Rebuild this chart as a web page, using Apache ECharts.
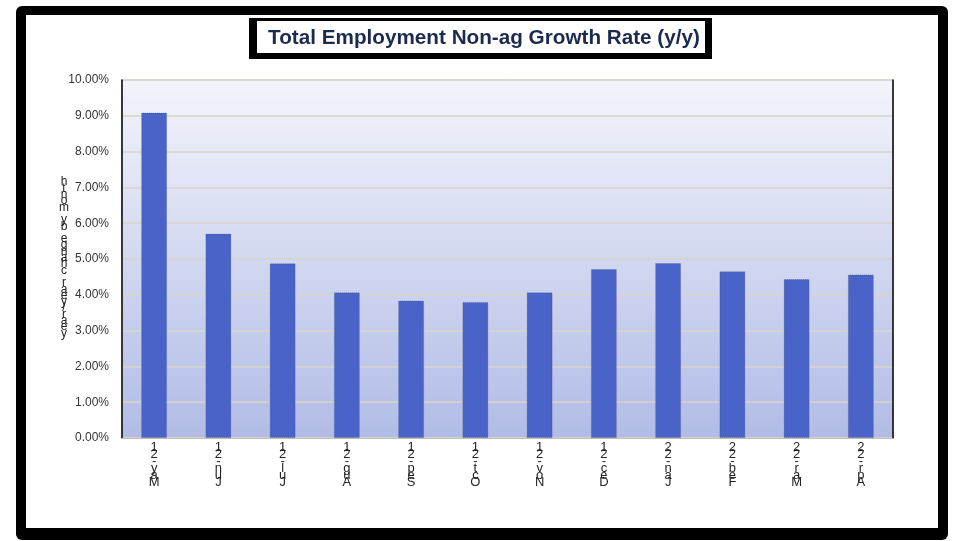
<!DOCTYPE html>
<html>
<head>
<meta charset="utf-8">
<script src="https://cdn.jsdelivr.net/npm/echarts@6/dist/echarts.min.js"></script>
<style>
html,body{margin:0;padding:0;background:#fff;}
#c{width:955px;height:541px;}
</style>
</head>
<body>
<div id="c"></div>
<script>
const categories = ["May-21","Jun-21","Jul-21","Aug-21","Sep-21","Oct-21","Nov-21","Dec-21","Jan-22","Feb-22","Mar-22","Apr-22"];
const growthRate = [9.09, 5.71, 4.88, 4.07, 3.84, 3.80, 4.07, 4.72, 4.89, 4.66, 4.44, 4.57];
const titleText = "Total Employment Non-ag Growth Rate (y/y)";
const yAxisTitle = "year/year change by month";

function stackReversed(s){ return s.split('').reverse().join('\n'); }

const chart = echarts.init(document.getElementById('c'), null, {renderer:'canvas'});
chart.setOption({
  backgroundColor:'#ffffff',
  animation:false,
  graphic:[
    {type:'rect', z:-10, shape:{x:16,y:6,width:932,height:534,r:6}, style:{fill:'#000'}},
    {type:'rect', z:-9, shape:{x:26,y:15,width:912,height:513}, style:{fill:'#fff'}},
    {type:'rect', z:1, shape:{x:249,y:18,width:463,height:41}, style:{fill:'#000'}},
    {type:'rect', z:2, shape:{x:257,y:21,width:448,height:32}, style:{fill:'#fff'}},
    {type:'text', z:3, x:484, y:38, style:{x:0, y:0, text:titleText, font:'bold 20.7px "Liberation Sans", sans-serif', fill:'#1c2a4e', align:'center', verticalAlign:'middle'}},
    {type:'text', z:3, x:64, y:179, style:{x:0, y:0, text:stackReversed(yAxisTitle), font:'12px "Liberation Sans", sans-serif', fill:'#222', align:'center', verticalAlign:'top', lineHeight:6.3}}
  ],
  grid:{left:122, right:62, top:80, bottom:103, show:true, borderWidth:1, borderColor:'#c8c8c8',
    backgroundColor:new echarts.graphic.LinearGradient(0,0,0,1,[{offset:0,color:'#f3f4fb'},{offset:1,color:'#b1bce6'}])},
  xAxis:{type:'category', data:categories,
    axisLine:{show:true, lineStyle:{color:'#bfbfbf', width:1}},
    axisTick:{show:false},
    axisLabel:{interval:0, margin:6, color:'#262626', fontFamily:'Liberation Sans', fontSize:13, lineHeight:7,
      formatter:function(v){ return stackReversed(v); }}
  },
  yAxis:[{type:'value', min:0, max:10, interval:1,
    axisLine:{show:true, lineStyle:{color:'#000', width:1.5}},
    axisTick:{show:false},
    axisLabel:{margin:13, color:'#333', fontFamily:'Liberation Sans', fontSize:12, formatter:function(v){return v.toFixed(2)+'%';}},
    splitLine:{show:true, lineStyle:{color:'#d9d5c8', width:1.5}}
  },{type:'value', position:'right', min:0, max:10, interval:1,
    axisLine:{show:true, lineStyle:{color:'#000', width:1.5}},
    axisTick:{show:false}, axisLabel:{show:false}, splitLine:{show:false}}],
  series:[{type:'bar', data:growthRate, barWidth:26,
    itemStyle:{color:'#4a63c8', borderColor:'rgba(60,60,60,0.35)', borderWidth:1, borderType:'dotted'}}]
});
</script>
</body>
</html>
